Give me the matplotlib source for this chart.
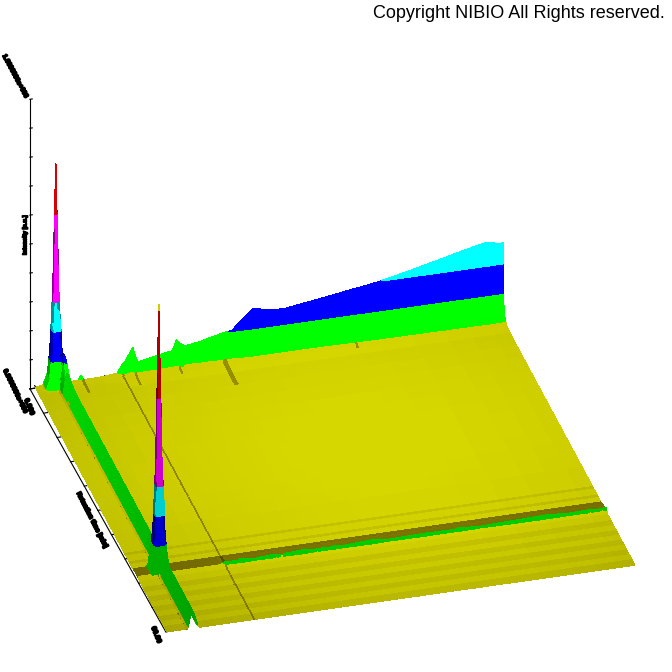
import numpy as np
import matplotlib
matplotlib.use("Agg")
import matplotlib.pyplot as plt
import matplotlib.patheffects as pe
from mpl_toolkits.mplot3d import proj3d
from mpl_toolkits.mplot3d.art3d import Poly3DCollection

## values: x = time (0-100), y = mass (0-100, back to front), z = 0-10
time_grid = [0, 1.5, 2.5, 3.0, 3.3, 3.5, 3.7, 3.85, 4.0, 4.15, 4.3, 4.5, 4.65, 4.8, 4.95, 5.1, 5.3, 5.65, 5.8, 6.2, 6.5, 7,
             9, 9.6, 10.2, 14, 17.4, 18.2, 18.6, 19.2, 20.7, 21.2, 21.8, 24.4, 27.6, 29.2, 30.1, 30.6, 31.8, 35, 38, 39.5, 40.5,
             42, 44, 46.4, 49.6, 52.8, 60, 67.7, 68.2, 72.9, 80, 87, 92, 96.4, 99, 100]
wall_top = [.02] + [.05] * 21 + [.04, .2, .04, .05, .1, .3, .4, .5, .9, .62, .39, .47, .57, .6, .96, .84, .71, .78, .9, .95, .98,
                                 1.02, 1.32, 1.65, 1.57, 1.5, 1.66, 1.84, 1.85, 1.96, 2.2, 2.46, 2.65, 2.8, 2.7, 2.7]
ridge_x = [0] * 11 + [.15, .35, .55, .75, .9, 1, .85, .7, .35, .12, 0] + [0] * 36
spike_a_x = [0, 0, .06, .16, .3, .43, .65, .8, 1, .8, .65, .43, .35, .29, .22, .14, .1, .06, .04, 0, 0, 0] + [0] * 36
spike_b_x = [0, 0, 0, .02, .06, .09, .13, .2, .27, .31, .43, .65, .8, 1, .8, .65, .43, .27, .16, .08, .03, 0] + [0] * 36
band_x = [.5] * 27 + [.9, 1.1, .8, 1, .9, 1.2, .8, 1, 1.1, .9, .8, 1, 1.2, .9, 1, .8, 1.1, .9, 1, 1.2, .8, 1, .9, 1.1, .8,
                      1, 1.2, .9, 1, .8, 1]

mass_grid = [0, .3, .5, .65, .8, .95, 1.1, 1.3, 1.65, 1.8, 2.3, 3, 5, 7, 10, 15, 20, 25, 30, 35, 40, 45, 50, 55, 60,
             68, 69, 71.5, 72.5, 74.3, 75, 75.5, 76, 76.2, 76.35, 76.5, 76.65, 76.8, 77, 77.35, 78, 78.4, 78.9, 79.5,
             82, 84, 86, 88, 90, 92, 94, 96, 98, 100]
wall_y = [1, .2, .15, .13, .11, .09, .08, .06, .05, .04, .02, .01] + [0] * 42
ridge_y = [1.2] * 12 + [.8, .7] + [.6] * 40
spike_a_y = [.28, .43, .65, .8, 1, .8, .65, .43, .27, .16, .06] + [0] * 43
spike_b_y = [0] * 30 + [.06, .16, .43, .65, .8, 1, .8, .65, .43, .27, .06, .02] + [0] * 12
band_y = [0] * 30 + [.01, .04, .045, .05, .05, .05, .05, .055, .06, .07, .08, .16, .03] + [0] * 11

spike_a_height = 7.7
spike_b_height = 9.2

band_edges = [-1, .1, 1, 2, 3, 6, 9, 99]
band_colors = [(1, 1, 0), (0, 1, 0), (0, 0, 1), (0, 1, 1), (1, 0, 1), (.85, 0, 0), (1, 1, 0)]

streak_time = [9.6, 20.7, 30.1, 39.5, 67.7]
streak_end = [5, 5, 3, 10, 3]
z_ticks = list(range(11))
y_ticks = list(range(0, 101, 10))
x_ticks = [0, 5, 10, 15]

X = np.array(time_grid, float)
Y = np.array(mass_grid, float)
Z = np.outer(wall_y, wall_top)
Z = np.maximum(Z, np.outer(ridge_y, ridge_x))
Z = np.maximum(Z, np.outer(band_y, band_x))
Z = np.maximum(Z, spike_a_height * np.minimum.outer(spike_a_y, spike_a_x))
Z = np.maximum(Z, spike_b_height * np.minimum.outer(spike_b_y, spike_b_x))

## stripes and dark lines on the floor
row_shade = np.ones(len(Y) - 1)
row_shade[29:41] = .6
row_shade[[25, 27]] = .93
row_shade[44:53:2] = .95
col_shade = np.ones(len(X) - 1)
col_shade[7:10] = .65
col_shade[27] = .7


def clip_poly(pts, level, above):
    out = []
    for k in range(len(pts)):
        p, q = pts[k], pts[(k + 1) % len(pts)]
        p_in = p[2] >= level if above else p[2] <= level
        q_in = q[2] >= level if above else q[2] <= level
        if p_in:
            out.append(p)
        if p_in != q_in:
            t = (level - p[2]) / (q[2] - p[2])
            out.append(p + t * (q - p))
    return out


def face_color(band, i, j):
    dx = (X[j + 1] - X[j]) * 4.88
    dy = (Y[i + 1] - Y[i]) * 4.94
    gx = (Z[i, j + 1] + Z[i + 1, j + 1] - Z[i, j] - Z[i + 1, j]) / 2 * 34 / dx
    gy = (Z[i + 1, j] + Z[i + 1, j + 1] - Z[i, j] - Z[i, j + 1]) / 2 * 34 / dy
    nn = np.sqrt(gx ** 2 + gy ** 2 + 1)
    f = .82 / nn + max(-gy / nn, 0) + .55 * abs(gx) / nn
    f = min(f, 1)
    if band == 0:
        f = min(f, .84)
        xm, ym = (X[j] + X[j + 1]) / 2, (Y[i] + Y[i + 1]) / 2
        vign = 1.03 - .13 * ((xm - 60) ** 2 + (ym - 40) ** 2) / 70 ** 2
        mult = row_shade[i] * col_shade[j]
        for st, en in zip(streak_time, streak_end):
            if X[j] <= st < X[j + 1] and Y[i] < en:
                mult = min(mult, .72)
        r = f * vign * mult
        return (min(r, 1), min(r, 1) * (.8 + .2 * mult), 0)
    if i < 12 and j >= 21:
        f = 1  # back wall, fully lit
    elif band == 1 and i >= 12 and j < 21:
        f = .85  # long ridge
    f = max(f, .55) * (1 - .25 * Y[i] / 100)
    c = band_colors[band]
    return (c[0] * f, c[1] * f, c[2] * f)


polys = []
colors = []
for i in range(len(Y) - 1):
    for j in range(len(X) - 1):
        quad = [np.array([X[j], Y[i], Z[i, j]]), np.array([X[j + 1], Y[i], Z[i, j + 1]]),
                np.array([X[j + 1], Y[i + 1], Z[i + 1, j + 1]]), np.array([X[j], Y[i + 1], Z[i + 1, j]])]
        for b in range(len(band_colors)):
            piece = clip_poly(quad, band_edges[b], True)
            if len(piece) >= 3:
                piece = clip_poly(piece, band_edges[b + 1], False)
            if len(piece) >= 3:
                polys.append(np.array(piece))
                colors.append(face_color(b, i, j))

fig = plt.figure(figsize=(6.72, 6.72), dpi=100, facecolor="white")
ax = fig.add_axes([0, 0, 1, 1], projection="3d", proj_type="ortho")
ax.set_axis_off()
ax.computed_zorder = False
ax.view_init(elev=31, azim=-105.5)
ax.set_xlim(0, 100)
ax.set_ylim(100, 0)
ax.set_zlim(0, 10)
ax.set_box_aspect((488, 494, 340))


def to_px(p):
    ax.apply_aspect()
    x2, y2, _ = proj3d.proj_transform(p[0], p[1], p[2], ax.get_proj())
    xd, yd = ax.transData.transform((float(x2), float(y2)))
    return np.array([xd, 672 - yd])


## fit the floor onto the picture
target_a, target_b = np.array([36.0, 388.0]), np.array([635.0, 563.0])
left, bottom, size = 0.0, 0.0, 1.0
for n in range(3):
    a, b = to_px((0, 0, 0)), to_px((100, 100, 0))
    k = np.linalg.norm(target_b - target_a) / np.linalg.norm(b - a)
    size = size * k
    ax.set_position([left, bottom, size, size])
    a = to_px((0, 0, 0))
    left += (target_a[0] - a[0]) / 672
    bottom -= (target_a[1] - a[1]) / 672
    ax.set_position([left, bottom, size, size])

## axes box, drawn below the surface
line_kw = dict(color="black", lw=0.8, zorder=1, clip_on=False)
ax.plot([-1.3, -1.3], [0, 0], [0, 10], **line_kw)
ax.plot([-1.3, 18], [0, 0], [0, 0], **line_kw)
ax.plot([-1.3, -.3, 1], [0, 100, 100], [0, 0, 0], **line_kw)
for t in z_ticks:
    ax.plot([-1.3, -.8], [0, 0], [t, t], **line_kw)
for t in y_ticks:
    ax.plot([-1.3 + t / 100, .2 + t / 100], [t, t], [0, 0], **line_kw)
for t in x_ticks:
    ax.plot([t, t], [0, -1], [0, 0], **line_kw)

surf = Poly3DCollection(polys, facecolors=colors, edgecolors=colors, linewidths=0.5, zorder=2, clip_on=False,
                        antialiased=False)
ax.add_collection3d(surf)

fig.text(665 / 672, 1 - 13 / 672, "Copyright NIBIO All Rights reserved.", ha="right", va="center",
         fontsize=12.95, family="Liberation Sans", color="black")


## the squashed axis labels of the original
def blob(px, py, s, rot, size=4.6, w=1.3):
    t = fig.text(px / 672, 1 - py / 672, s, rotation=rot, ha="center", va="center", rotation_mode="anchor",
                 fontsize=size, fontweight="bold", color="black", family="Liberation Sans")
    t.set_path_effects([pe.withStroke(linewidth=w, foreground="black")])


blob(15, 76, "1.0000000e+006", -62)
blob(15, 391, "0.0000000e+000", -64)
blob(29, 407, "0.000", -68, 5, 1.2)
blob(25, 235, "Intensity [a.u.]", 90, 4.2, 1.0)
blob(92, 520, "Retention time [min]", -63, 4.6)
blob(156, 635, "60.00", -68, 5, 1.2)

fig.savefig("out.png", dpi=100, facecolor="white")
